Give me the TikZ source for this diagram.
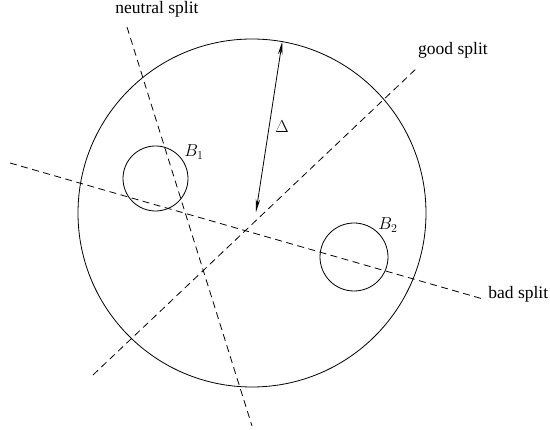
\documentclass[tikz,border=0pt]{standalone}
\usepackage[no-math]{fontspec}
\setmainfont{Liberation Serif}
\usetikzlibrary{arrows.meta}
\tikzset{
  every picture/.style={line width=0.8pt, font=\fontsize{17.5}{20}\selectfont},
  ball/.style={circle, draw, inner sep=0pt, outer sep=0pt, minimum size=#1},
  splitline/.style={dash pattern=on 7pt off 4.5pt},
  note/.style={inner sep=1pt},
  gap/.style={{Stealth[length=13pt, width=4.5pt]}-{Stealth[length=13pt, width=4.5pt]}},
}

\begin{document}
\begin{tikzpicture}[x=1pt, y=-1pt]
  \useasboundingbox (0,0) rectangle (550,430);
  % region and the two balls
  \node[ball=348pt] (disk) at (252,213) {};
  \node[ball=65pt] (b1) at (155.5,178.5) {};
  \node[ball=68pt] (b2) at (354,257) {};
  \node[note] (lb1) at (194,152) {$B_1$};
  \node[note] (lb2) at (388,225) {$B_2$};
  % the gap Delta
  \coordinate (mid) at (256,212);
  \draw[gap] (mid) -- (disk.80.8);
  \node[note] (ld) at (282,127) {$\Delta$};
  % the three splits
  \coordinate (n1) at (127,27);  \coordinate (n2) at (252,426);
  \coordinate (g1) at (93,375);  \coordinate (g2) at (418,67);
  \coordinate (s1) at (10,163);  \coordinate (s2) at (483,299);
  \foreach \a/\b in {n1/n2, g1/g2, s1/s2} \draw[splitline] (\a) -- (\b);
  \node[note] (ln) at (157,9) {neutral split};
  \node[note] (lg) at (453,50) {good split};
  \node[note, anchor=west] (ls) at (487,294) {bad split};
\end{tikzpicture}
\end{document}
